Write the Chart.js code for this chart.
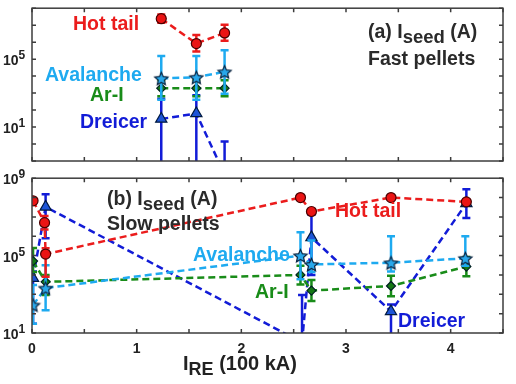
<!DOCTYPE html>
<html>
<head>
<meta charset="utf-8">
<script src="https://cdn.jsdelivr.net/npm/chart.js@4"></script>
<style>
body { margin: 0; background: #fff; }
#wrap { position: relative; width: 516px; height: 384px; overflow: hidden;
        font-family: "Liberation Sans", Arial, sans-serif; font-weight: bold; }
canvas { position: absolute; left: 0; }
.t { position: absolute; line-height: 0; white-space: nowrap; }
</style>
</head>
<body>
<div id="wrap">
  <canvas id="fast" width="516" height="170" style="top:0"></canvas>
  <canvas id="slow" width="516" height="214" style="top:170px"></canvas>
</div>
<script>
// ---- data: fast pellets (a) ----
const fastX = [1.235, 1.57, 1.84];
const fastHot = [2.4e7, 8.3e5, 3.5e6];
const fastHotLo = [1.4e7, 2.8e5, 1.2e6];
const fastHotHi = [4.2e7, 2.6e6, 1.05e7];
const fastAva = [7.4e3, 8.5e3, 1.8e4];
const fastAvaLo = [4e2, 4e2, 9e2];
const fastAvaHi = [1.55e5, 1.55e5, 3.3e5];
const fastAr = [1.95e3, 1.95e3, 1.95e3];
const fastArLo = [6.5e2, 6.5e2, 6.5e2];
const fastArHi = [5.8e3, 5.8e3, 5.8e3];
const fastDre = [30, 63, 0.016];
const fastDreLo = [1e-3, 1e-3, 1e-3];
const fastDreHi = [470, 740, 1.4];

// ---- data: slow pellets (b) ----
const slowHotX = [0.01, 0.12, 0.13, 2.565, 2.67, 3.43, 4.15];
const slowHot = [6.8e7, 5.0e6, 1.2e5, 1.0e8, 1.9e7, 1.0e8, 6.0e7];
const slowHotLo = [null, 2.2e6, 8e3, null, null, null, null];
const slowHotHi = [null, 1.1e7, 2.4e5, null, null, null, null];
const slowAvaX = [0.01, 0.13, 2.565, 2.67, 3.43, 4.14];
const slowAva = [2.8e2, 2.1e3, 1.0e5, 3.5e4, 4.3e4, 7.2e4];
const slowAvaLo = [30, 1.5e2, 6e3, 1.4e4, 1.5e4, 3e4];
const slowAvaHi = [3e3, 3.2e4, 1.6e6, 6e5, 1e6, 1e6];
const slowArX = [0.01, 0.13, 2.565, 2.67, 3.43, 4.15];
const slowAr = [5.2e4, 4.4e3, 1.0e4, 1.55e3, 2.7e3, 2.7e4];
const slowArLo = [1.4e4, 9.3e2, 3.2e3, 4.5e2, 8e2, 8.5e3];
const slowArHi = [2.5e5, 1e4, 3e4, 5.5e3, 9e3, 8.5e4];
const slowDreX = [0.01, 0.13, 2.58, 2.67, 3.43, 4.15];
const slowDre = [6.8e3, 3.3e7, 3.2, 8.7e5, 1.3e2, 5e7];
const slowDreLo = [30, 8e5, 1e-3, 1e4, 1e-3, 8.7e6];
const slowDreHi = [1.5e4, 1.5e8, 9.3e2, 1.3e7, 3e2, 2.7e8];

// ---- ticks ----
const xTicks = [0, 0.5, 1, 1.5, 2, 2.5, 3, 3.5, 4, 4.5];
const xLabels = [0, 1, 2, 3, 4];
const fastDecades = [1e-1, 1, 1e1, 1e2, 1e3, 1e4, 1e5, 1e6, 1e7, 1e8];
const slowDecades = [1e1, 1e2, 1e3, 1e4, 1e5, 1e6, 1e7, 1e8, 1e9];
const fastYLabels = [1, 5];
const slowYLabels = [1, 5, 9];

const red = 'rgb(235,28,28)';
const lblue = 'rgb(30,170,240)';
const green = 'rgb(25,140,25)';
const dblue = 'rgb(18,28,215)';

// filled five point star for avalanche markers
function starImg(r, fill, edge) {
  const c = document.createElement('canvas');
  const s = Math.ceil(2 * r + 3);
  c.width = c.height = s;
  const g = c.getContext('2d');
  g.beginPath();
  for (let k = 0; k < 10; k++) {
    const rr = k % 2 ? r * 0.47 : r;
    const a = -Math.PI / 2 + k * Math.PI / 5;
    g.lineTo(s / 2 + rr * Math.cos(a), s / 2 + 0.8 + rr * Math.sin(a));
  }
  g.closePath();
  g.fillStyle = fill; g.fill();
  g.lineWidth = 1.2; g.strokeStyle = edge; g.stroke();
  return c;
}
const star = starImg(6.9, 'rgb(40,168,235)', '#0b2440');

function series(xs, ys, lo, hi, color, shape, r, fill, edge) {
  return {
    data: xs.map((x, i) => ({ x: x, y: ys[i] })),
    errLo: lo, errHi: hi,
    showLine: true, borderColor: color, borderWidth: 2.5, borderDash: [7, 4],
    pointStyle: shape, pointRadius: r,
    pointBackgroundColor: fill, pointBorderColor: edge, pointBorderWidth: 1.2
  };
}

// error bars, drawn just before each series
const errorBars = {
  id: 'errorBars',
  beforeDatasetDraw(chart, args) {
    const ds = chart.data.datasets[args.index];
    if (!ds.errLo) return;
    const ctx = chart.ctx, a = chart.chartArea;
    const x = chart.scales.x, y = chart.scales.y;
    ctx.save();
    ctx.beginPath();
    ctx.rect(a.left, a.top, a.right - a.left, a.bottom - a.top);
    ctx.clip();
    ctx.setLineDash([]);
    ctx.strokeStyle = ds.borderColor;
    ctx.lineWidth = 2.5;
    ds.data.forEach((p, i) => {
      if (ds.errLo[i] == null) return;
      const px = x.getPixelForValue(p.x);
      const y0 = y.getPixelForValue(ds.errLo[i]);
      const y1 = y.getPixelForValue(ds.errHi[i]);
      ctx.beginPath();
      ctx.moveTo(px, y0); ctx.lineTo(px, y1);
      ctx.moveTo(px - 4, y0); ctx.lineTo(px + 4, y0);
      ctx.moveTo(px - 4, y1); ctx.lineTo(px + 4, y1);
      ctx.stroke();
    });
    ctx.restore();
  }
};

// box and inward ticks on all four sides
const frame = {
  id: 'frame',
  afterDraw(chart) {
    const ctx = chart.ctx, a = chart.chartArea;
    const x = chart.scales.x, y = chart.scales.y;
    ctx.save();
    ctx.strokeStyle = '#3c3c3c';
    ctx.lineWidth = 1.5;
    ctx.strokeRect(a.left, a.top, a.right - a.left, a.bottom - a.top);
    ctx.beginPath();
    xTicks.forEach(v => {
      const px = x.getPixelForValue(v);
      ctx.moveTo(px, a.bottom); ctx.lineTo(px, a.bottom - 4);
      ctx.moveTo(px, a.top); ctx.lineTo(px, a.top + 4);
    });
    chart.options.decades.forEach(v => {
      const py = y.getPixelForValue(v);
      ctx.moveTo(a.left, py); ctx.lineTo(a.left + 4, py);
      ctx.moveTo(a.right, py); ctx.lineTo(a.right - 4, py);
    });
    ctx.stroke();
    ctx.restore();
  }
};

function makeChart(id, datasets, decades, pad) {
  return new Chart(document.getElementById(id), {
    type: 'scatter',
    data: { datasets: datasets },
    options: {
      responsive: false,
      animation: false,
      events: [],
      decades: decades,
      layout: { padding: pad },
      plugins: { legend: { display: false }, tooltip: { enabled: false } },
      scales: {
        x: { type: 'linear', min: 0, max: 4.5, display: false },
        y: { type: 'logarithmic', min: decades[0], max: decades[decades.length - 1], display: false }
      }
    },
    plugins: [errorBars, frame]
  });
}

const fastChart = makeChart('fast', [
  series(fastX, fastHot, fastHotLo, fastHotHi, red, 'circle', 5, 'rgb(235,20,20)', '#4a0000'),
  series(fastX, fastAva, fastAvaLo, fastAvaHi, lblue, star, 7, lblue, '#0b2440'),
  series(fastX, fastAr, fastArLo, fastArHi, green, 'rectRot', 4.5, 'rgb(20,120,20)', '#022'),
  series(fastX, fastDre, fastDreLo, fastDreHi, dblue, 'triangle', 6.5, 'rgb(30,85,215)', '#001a40')
], fastDecades, { left: 32, top: 5, right: 13, bottom: 9 });

const slowChart = makeChart('slow', [
  series(slowHotX, slowHot, slowHotLo, slowHotHi, red, 'circle', 5, 'rgb(235,20,20)', '#4a0000'),
  series(slowAvaX, slowAva, slowAvaLo, slowAvaHi, lblue, star, 7, lblue, '#0b2440'),
  series(slowArX, slowAr, slowArLo, slowArHi, green, 'rectRot', 4.5, 'rgb(20,120,20)', '#022'),
  series(slowDreX, slowDre, slowDreLo, slowDreHi, dblue, 'triangle', 6.5, 'rgb(30,85,215)', '#001a40')
], slowDecades, { left: 32, top: 8, right: 13, bottom: 51 });

// ---- text ----
const wrap = document.getElementById('wrap');
function addText(html, x, base, size, color, center) {
  const d = document.createElement('div');
  d.className = 't';
  d.innerHTML = html;
  d.style.left = x + 'px';
  d.style.top = (base - 0.3465 * size) + 'px';
  d.style.fontSize = size + 'px';
  d.style.color = color;
  if (center) d.style.transform = 'translateX(-50%)';
  wrap.appendChild(d);
}
const sub = (s, sz) => '<span style="position:relative;top:5px;font-size:' + sz + 'px">' + s + '</span>';

// y tick labels placed from the log scales
function yLabels(chart, exps, offsetTop) {
  exps.forEach(e => {
    const py = chart.scales.y.getPixelForValue(Math.pow(10, e)) + offsetTop;
    addText('10<span style="position:relative;top:-6px;font-size:12px">' + e + '</span>',
      3, py + 1 + 5, 14, '#222');
  });
}
yLabels(fastChart, fastYLabels, 0);
yLabels(slowChart, slowYLabels, 170);

xLabels.forEach(v => {
  addText(String(v), slowChart.scales.x.getPixelForValue(v), 353, 14, '#222', true);
});
addText('I' + sub('RE', 18) + ' (100 kA)', 183, 370, 20, '#222');

// panel (a)
addText('Hot tail', 73, 30, 19.5, red);
addText('Avalanche', 45, 81, 19.5, lblue);
addText('Ar-I', 90, 101, 19.5, green);
addText('Dreicer', 80, 127.5, 19.5, dblue);
addText('(a) I' + sub('seed', 18.5) + ' (A)', 368, 38, 19.5, '#2a2a2a');
addText('Fast pellets', 368, 65, 19.5, '#2a2a2a');

// panel (b)
addText('(b) I' + sub('seed', 18.5) + ' (A)', 107, 205, 19.5, '#2a2a2a');
addText('Slow pellets', 107, 230, 19.5, '#2a2a2a');
addText('Hot tail', 335, 217, 19.5, red);
addText('Avalanche', 193, 261, 19.5, lblue);
addText('Ar-I', 255, 298, 19.5, green);
addText('Dreicer', 398, 327, 19.5, dblue);
</script>
</body>
</html>
